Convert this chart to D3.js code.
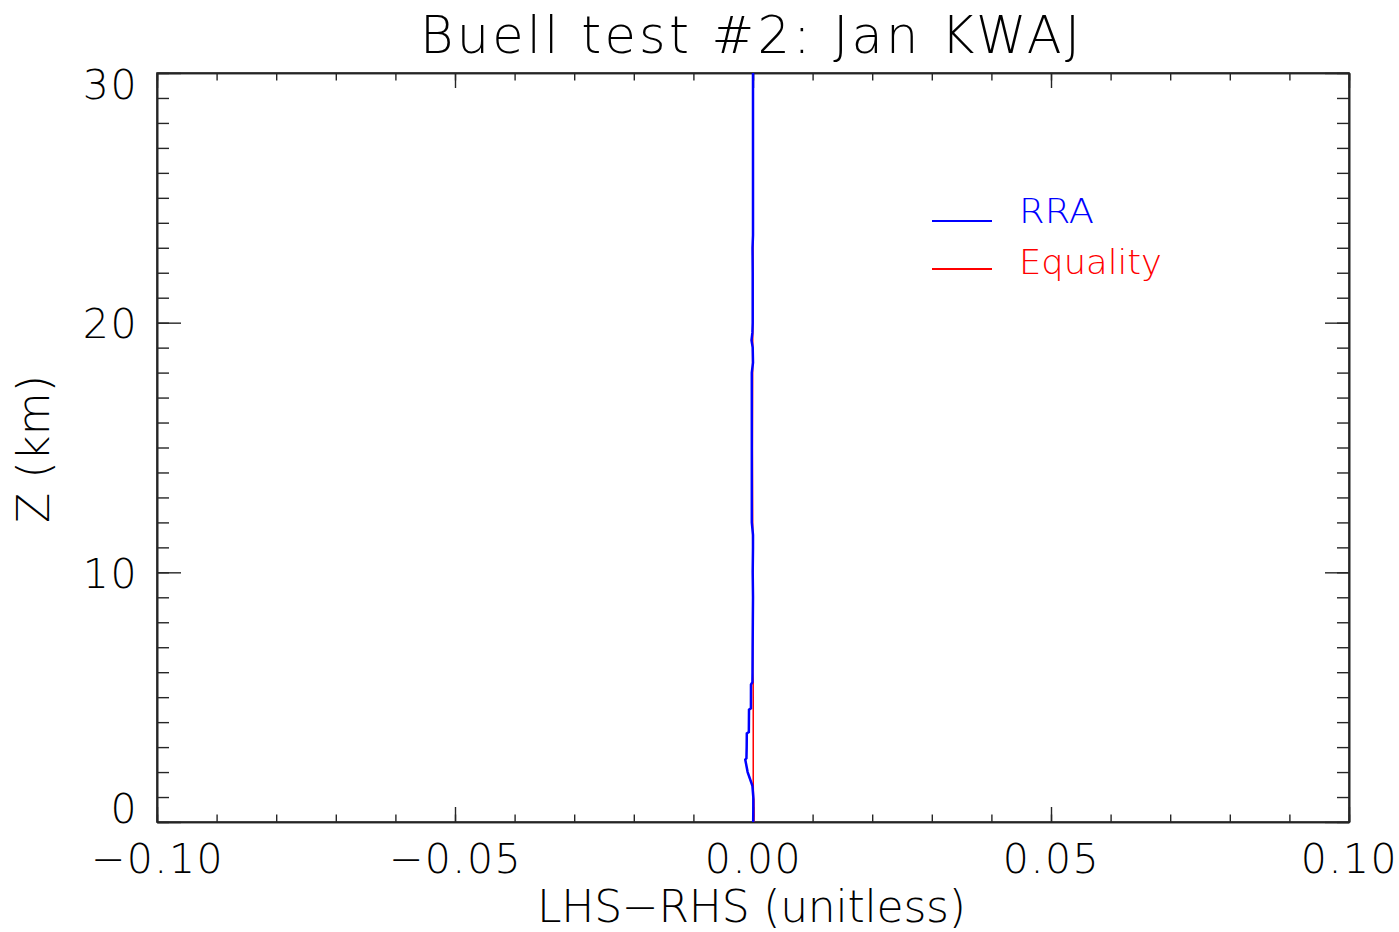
<!DOCTYPE html>
<html>
<head>
<meta charset="utf-8">
<script src="https://cdn.jsdelivr.net/npm/d3@7"></script>
<style>
  html, body { margin: 0; padding: 0; background: #fff; }
  svg { display: block; }
  text { font-family: "DejaVu Sans ExtraLight", "DejaVu Sans", sans-serif; font-weight: 200; fill: #000; }
</style>
</head>
<body>
<svg id="chart" width="1399" height="932"></svg>
<script>
// ---- data ----
const title = "Buell test #2: Jan KWAJ";
const xLabel = "LHS\u2212RHS (unitless)";
const yLabel = "Z (km)";
const xTicks = [-0.10, -0.05, 0.00, 0.05, 0.10];
const xTickLabels = ["\u22120.10", "\u22120.05", "0.00", "0.05", "0.10"];
const yTicks = [0, 10, 20, 30];
const yTickLabels = ["0", "10", "20", "30"];
const seriesNames = ["RRA", "Equality"];

// RRA profile
const rraZ = [0, 0.5, 1.0, 1.45, 2.0, 2.5, 2.55, 3.0, 3.55, 3.6, 4.5, 4.55, 5.5, 5.6, 6, 7, 8, 9, 10, 11, 11.5, 12, 13, 14, 15, 16, 17, 18, 18.4, 19, 19.3, 19.6, 20, 21, 22, 23, 23.5, 24, 25, 26, 27, 28, 29, 30];
const rraX = [0.00003, 0.00005, 0.00005, -0.0001, -0.0009, -0.0013, -0.0011, -0.00106, -0.00104, -0.0007, -0.00067, -0.00035, -0.00034, -0.0001, -0.00008, -0.00006, -0.00003, 0.0, -0.00005, 0.0, 0.0, -0.0002, -0.0002, -0.0002, -0.0002, -0.0002, -0.0002, -0.0002, 0.0, -0.00005, -0.00025, -0.0001, -0.00005, -0.00005, -0.00005, -0.00008, 0.0, 0.0, 0.0, 0.0, 0.0, 0.0, 0.0, 0.0];

// Equality profile
const eqZ = [0, 0.3, 0.9, 1.0, 1.5, 2.0, 3.0, 4.0, 5.0, 5.6, 6, 8, 10, 15, 20, 25, 30];
const eqX = [0.00015, 0.00018, 0.00015, 0.00008, 0.00004, 0.00004, 0.00004, 0.00004, 0.00004, 0.00003, -0.00005, -0.00005, -0.00003, -0.0001, -0.00004, 0.0, 0.0];

const colors = ["#0000ff", "#ff0000"];

// ---- layout ----
const L = 157, R = 1349, T = 73, B = 822;
const svg = d3.select("#chart");

const x = d3.scaleLinear().domain([-0.1, 0.1]).range([L, R]);
const y = d3.scaleLinear().domain([0, 30]).range([B, T]);

const axisColor = "#262626";
const xMinor = d3.range(-0.1, 0.1001, 0.01);
const yMinor = d3.range(0, 30.001, 1);

function styleAxis(g) {
  g.select(".domain").attr("stroke", axisColor).attr("stroke-width", 1.6);
  g.selectAll(".tick line").attr("stroke", axisColor).attr("stroke-width", 1.4);
}

// minor ticks (inward)
svg.append("g").attr("transform", `translate(0,${B})`)
  .call(d3.axisBottom(x).tickValues(xMinor).tickSize(-7.5).tickFormat("").tickSizeOuter(0))
  .call(styleAxis);
svg.append("g").attr("transform", `translate(0,${T})`)
  .call(d3.axisTop(x).tickValues(xMinor).tickSize(-7.5).tickFormat("").tickSizeOuter(0))
  .call(styleAxis);
svg.append("g").attr("transform", `translate(${L},0)`)
  .call(d3.axisLeft(y).tickValues(yMinor).tickSize(-12).tickFormat("").tickSizeOuter(0))
  .call(styleAxis);
svg.append("g").attr("transform", `translate(${R},0)`)
  .call(d3.axisRight(y).tickValues(yMinor).tickSize(-12).tickFormat("").tickSizeOuter(0))
  .call(styleAxis);

// major ticks
const xAxisB = svg.append("g").attr("transform", `translate(0,${B})`)
  .call(d3.axisBottom(x).tickValues(xTicks).tickSize(-15).tickSizeOuter(0)
    .tickFormat((d, i) => xTickLabels[i]).tickPadding(0))
  .call(styleAxis);
xAxisB.selectAll(".tick text")
  .attr("y", 51).attr("dy", null)
  .attr("font-size", 41).attr("font-family", null).attr("fill", "#000")
  .attr("letter-spacing", 1.5);

svg.append("g").attr("transform", `translate(0,${T})`)
  .call(d3.axisTop(x).tickValues(xTicks).tickSize(-15).tickFormat("").tickSizeOuter(0))
  .call(styleAxis);

const yAxisL = svg.append("g").attr("transform", `translate(${L},0)`)
  .call(d3.axisLeft(y).tickValues(yTicks).tickSize(-24).tickSizeOuter(0)
    .tickFormat((d, i) => yTickLabels[i]).tickPadding(0))
  .call(styleAxis);
yAxisL.selectAll(".tick text")
  .attr("x", -19).attr("text-anchor", "end")
  .attr("dy", null)
  .attr("y", (d, i) => i === 0 ? 0 : (i === yTicks.length - 1 ? 25 : 15))
  .attr("font-size", 41).attr("font-family", null).attr("fill", "#000")
  .attr("letter-spacing", 1.5);

svg.append("g").attr("transform", `translate(${R},0)`)
  .call(d3.axisRight(y).tickValues(yTicks).tickSize(-24).tickFormat("").tickSizeOuter(0))
  .call(styleAxis);

// frame
svg.append("rect").attr("x", L).attr("y", T).attr("width", R - L).attr("height", B - T)
  .attr("fill", "none").attr("stroke", axisColor).attr("stroke-width", 1.6);

// lines
const line = d3.line().x(d => x(d[0])).y(d => y(d[1]));
const eqData = eqZ.map((z, i) => [eqX[i], z]);
const rraData = rraZ.map((z, i) => [rraX[i], z]);

svg.append("path").datum(eqData).attr("d", line)
  .attr("fill", "none").attr("stroke", colors[1]).attr("stroke-width", 1.5);
svg.append("path").datum(rraData).attr("d", line)
  .attr("fill", "none").attr("stroke", colors[0]).attr("stroke-width", 2.5);

// legend
const legY = [221, 269];
const legText = [
  {txt: seriesNames[0], len: 75, base: 223},
  {txt: seriesNames[1], len: 143, base: 274}
];
seriesNames.forEach((n, i) => {
  svg.append("line").attr("x1", 932).attr("x2", 992).attr("y1", legY[i]).attr("y2", legY[i])
    .attr("stroke", colors[i]).attr("stroke-width", 2);
  svg.append("text").attr("x", 1019).attr("y", legText[i].base)
    .attr("font-size", 33).style("fill", colors[i])
    .attr("textLength", legText[i].len).attr("lengthAdjust", "spacingAndGlyphs")
    .text(legText[i].txt);
});

// title
svg.append("text").attr("x", 420).attr("y", 53)
  .attr("font-size", 51).attr("textLength", 660).attr("lengthAdjust", "spacing")
  .text(title);

// x label
svg.append("text").attr("x", 537).attr("y", 922)
  .attr("font-size", 44).attr("textLength", 429).attr("lengthAdjust", "spacing")
  .text(xLabel);

// y label
svg.append("text").attr("transform", "translate(49,523) rotate(-90)")
  .attr("x", 0).attr("y", 0)
  .attr("font-size", 44).attr("textLength", 148).attr("lengthAdjust", "spacing")
  .text(yLabel);
</script>
</body>
</html>
